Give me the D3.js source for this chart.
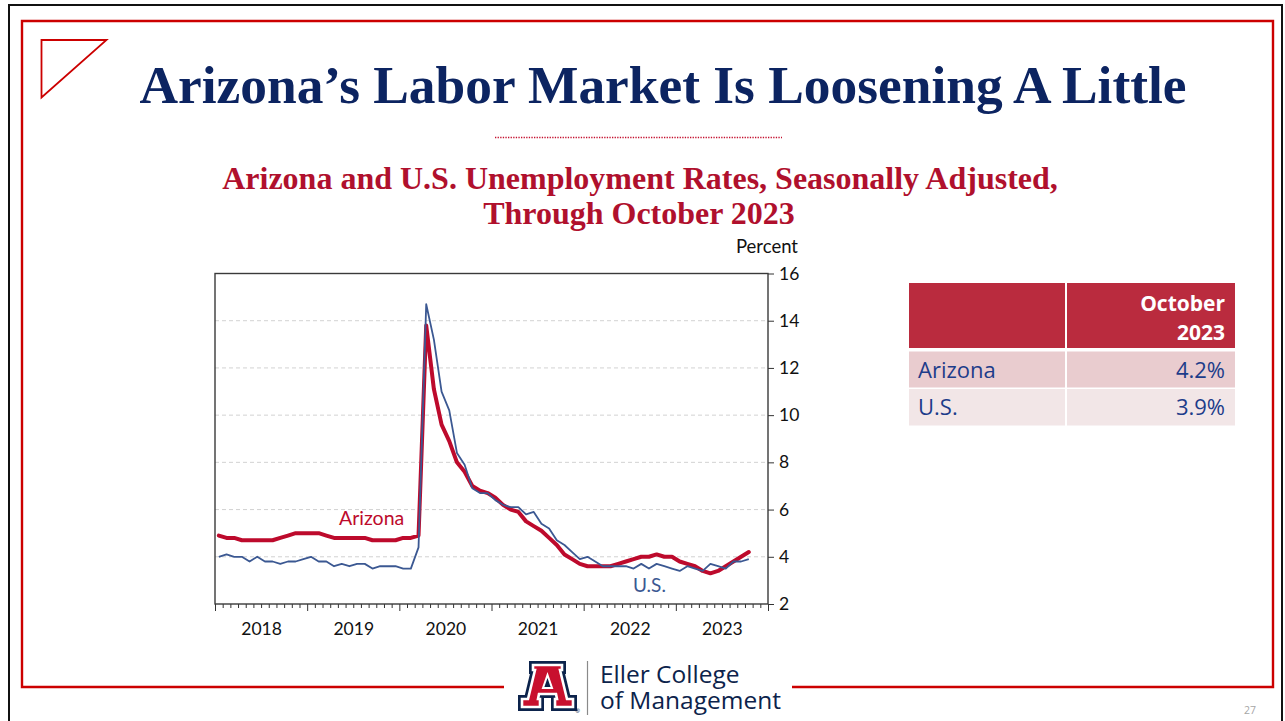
<!DOCTYPE html>
<html>
<head>
<meta charset="utf-8">
<script src="https://cdn.jsdelivr.net/npm/d3@7"></script>
<style>
  html, body { margin: 0; padding: 0; background: #ffffff; }
  svg { display: block; }
</style>
</head>
<body>
<svg id="slide" width="1285" height="721"></svg>
<script>
// Unemployment rates, seasonally adjusted, monthly from Jan 2018 through Oct 2023
const years = ["2018", "2019", "2020", "2021", "2022", "2023"];
const arizona = [
  4.9, 4.8, 4.8, 4.7, 4.7, 4.7, 4.7, 4.7, 4.8, 4.9, 5.0, 5.0,
  5.0, 5.0, 4.9, 4.8, 4.8, 4.8, 4.8, 4.8, 4.7, 4.7, 4.7, 4.7,
  4.8, 4.8, 4.9, 13.8, 11.1, 9.6, 8.9, 8.0, 7.6, 7.0, 6.8, 6.7,
  6.5, 6.2, 6.0, 5.9, 5.5, 5.3, 5.1, 4.8, 4.5, 4.1, 3.9, 3.7,
  3.6, 3.6, 3.6, 3.6, 3.7, 3.8, 3.9, 4.0, 4.0, 4.1, 4.0, 4.0,
  3.8, 3.7, 3.6, 3.4, 3.3, 3.4, 3.6, 3.8, 4.0, 4.2
];
const us = [
  4.0, 4.1, 4.0, 4.0, 3.8, 4.0, 3.8, 3.8, 3.7, 3.8, 3.8, 3.9,
  4.0, 3.8, 3.8, 3.6, 3.7, 3.6, 3.7, 3.7, 3.5, 3.6, 3.6, 3.6,
  3.5, 3.5, 4.4, 14.7, 13.2, 11.0, 10.2, 8.4, 7.9, 6.9, 6.7, 6.7,
  6.4, 6.2, 6.1, 6.1, 5.8, 5.9, 5.4, 5.2, 4.7, 4.5, 4.2, 3.9,
  4.0, 3.8, 3.6, 3.6, 3.6, 3.6, 3.5, 3.7, 3.5, 3.7, 3.6, 3.5,
  3.4, 3.6, 3.5, 3.4, 3.7, 3.6, 3.5, 3.8, 3.8, 3.9
];
const yTicks = [2, 4, 6, 8, 10, 12, 14, 16];
const tableHeader = ["October", "2023"];
const tableRows = ["Arizona", "U.S."];
const tableValues = [arizona[arizona.length - 1], us[us.length - 1]];

const NAVY = "#0c2461";
const CRIMSON = "#b0102d";
const FRAME_RED = "#cc0000";
const AZ_RED = "#bd0a2c";
const US_BLUE = "#3b5892";

const svg = d3.select("#slide");

// ---- slide frame ----
svg.append("rect").attr("x", 0).attr("y", 0).attr("width", 1285).attr("height", 721).attr("fill", "#fff");
svg.append("path")
  .attr("d", "M9,740 L9,5 L1282,5 L1282,740")
  .attr("fill", "none").attr("stroke", "#111").attr("stroke-width", 2);
svg.append("path")
  .attr("d", "M504,687 L22,687 L22,21 L1273,21 L1273,687 L792,687")
  .attr("fill", "none").attr("stroke", FRAME_RED).attr("stroke-width", 2.4);
svg.append("path")
  .attr("d", "M41.5,40 L106.5,40 L41.5,97.5 Z")
  .attr("fill", "none").attr("stroke", FRAME_RED).attr("stroke-width", 1.8);

// ---- titles ----
svg.append("text")
  .attr("x", 663).attr("y", 103)
  .attr("text-anchor", "middle")
  .attr("font-family", "'Liberation Serif', 'Times New Roman', serif")
  .attr("font-weight", "bold").attr("font-size", 53.4)
  .attr("fill", NAVY)
  .text("Arizona’s Labor Market Is Loosening A Little");

svg.append("line")
  .attr("x1", 495).attr("x2", 782).attr("y1", 137.5).attr("y2", 137.5)
  .attr("stroke", "#c4102f").attr("stroke-width", 1.6).attr("stroke-dasharray", "1.3,1.3");

const sub = svg.append("text")
  .attr("text-anchor", "middle")
  .attr("font-family", "'Liberation Serif', 'Times New Roman', serif")
  .attr("font-weight", "bold").attr("font-size", 32)
  .attr("fill", CRIMSON);
sub.append("tspan").attr("x", 640).attr("y", 189).text("Arizona and U.S. Unemployment Rates, Seasonally Adjusted,");
sub.append("tspan").attr("x", 639).attr("y", 224).text("Through October 2023");

// ---- chart ----
const plot = { left: 215, right: 768, top: 273.5, bottom: 604 };
const nMonths = years.length * 12;
const x = d3.scaleLinear().domain([0, nMonths]).range([plot.left, plot.right]);
const y = d3.scaleLinear().domain([2, 16]).range([plot.bottom, plot.top]);
const AXIS_FONT = "Lato, 'Open Sans', sans-serif";

const chart = svg.append("g");

// dashed gridlines
chart.append("g").selectAll("line")
  .data(yTicks.filter(d => d > 2 && d < 16))
  .join("line")
  .attr("x1", plot.left).attr("x2", plot.right)
  .attr("y1", d => y(d)).attr("y2", d => y(d))
  .attr("stroke", "#d2d2d2").attr("stroke-width", 1).attr("stroke-dasharray", "4,3");

// right value axis
const yAxis = chart.append("g")
  .attr("transform", `translate(${plot.right},0)`)
  .call(d3.axisRight(y).tickValues(yTicks).tickSize(6).tickPadding(5).tickFormat(d3.format("d")));
yAxis.select(".domain").remove();
yAxis.selectAll(".tick line").attr("stroke", "#333");
yAxis.selectAll(".tick text").attr("font-family", AXIS_FONT).attr("font-size", 17.5).attr("fill", "#111");

chart.append("text")
  .attr("x", 798).attr("y", 253)
  .attr("text-anchor", "end")
  .attr("font-family", AXIS_FONT).attr("font-size", 18.5).attr("fill", "#111")
  .text("Percent");

// monthly ticks along the bottom, longer at each January
const xAxis = chart.append("g")
  .attr("transform", `translate(0,${plot.bottom})`)
  .call(d3.axisBottom(x).tickValues(d3.range(0, nMonths + 1)).tickSize(4).tickFormat(""));
xAxis.select(".domain").remove();
xAxis.selectAll(".tick line")
  .attr("stroke", "#333")
  .attr("y2", d => (d % 12 === 0 ? 7 : 4));

// year labels centred in each year
const yearAxis = chart.append("g")
  .attr("transform", `translate(0,${plot.bottom})`)
  .call(d3.axisBottom(x).tickValues(years.map((_, i) => i * 12 + 6)).tickSize(0).tickPadding(19)
    .tickFormat((d, i) => years[i]));
yearAxis.select(".domain").remove();
yearAxis.selectAll(".tick text").attr("font-family", AXIS_FONT).attr("font-size", 17.5).attr("fill", "#111");

// plot frame
chart.append("rect")
  .attr("x", plot.left).attr("y", plot.top)
  .attr("width", plot.right - plot.left).attr("height", plot.bottom - plot.top)
  .attr("fill", "none").attr("stroke", "#3a3a3a").attr("stroke-width", 1.4);

const line = d3.line()
  .x((d, i) => x(i + 0.5))
  .y(d => y(d))
  .curve(d3.curveLinear);

chart.append("path")
  .datum(arizona)
  .attr("d", line)
  .attr("fill", "none").attr("stroke", AZ_RED).attr("stroke-width", 4)
  .attr("stroke-linejoin", "round").attr("stroke-linecap", "round");

chart.append("path")
  .datum(us)
  .attr("d", line)
  .attr("fill", "none").attr("stroke", US_BLUE).attr("stroke-width", 1.8)
  .attr("stroke-linejoin", "round");

chart.append("text")
  .attr("x", 339).attr("y", 525)
  .attr("font-family", AXIS_FONT).attr("font-size", 19.5).attr("fill", AZ_RED)
  .text("Arizona");
chart.append("text")
  .attr("x", 633).attr("y", 591.5)
  .attr("font-family", AXIS_FONT).attr("font-size", 19).attr("fill", US_BLUE)
  .text("U.S.");

// ---- summary table ----
const TABLE_FONT = "'Open Sans', sans-serif";
const tbl = svg.append("g");
const colX = [909, 1067], colW = [157, 168];
const rowY = [283, 351.5, 389], rowH = [65, 36, 36.5];
const rowFill = ["#ba2b3e", "#e9cccf", "#f2e6e7"];

[0, 1, 2].forEach(r => {
  [0, 1].forEach(c => {
    tbl.append("rect")
      .attr("x", colX[c]).attr("y", rowY[r])
      .attr("width", colW[c] - (c === 0 ? 1 : 0)).attr("height", rowH[r])
      .attr("fill", rowFill[r]);
  });
});

tbl.append("text")
  .attr("text-anchor", "end")
  .attr("font-family", TABLE_FONT).attr("font-weight", "bold").attr("font-size", 21)
  .attr("fill", "#fff")
  .selectAll("tspan").data(tableHeader).join("tspan")
  .attr("x", 1225).attr("y", (d, i) => 311 + i * 28.5)
  .text(d => d);

tableRows.forEach((name, i) => {
  const base = rowY[i + 1] + 26;
  tbl.append("text")
    .attr("x", 918).attr("y", base)
    .attr("font-family", TABLE_FONT).attr("font-size", 22).attr("fill", "#1d3c8a")
    .text(name);
  tbl.append("text")
    .attr("x", 1225).attr("y", base)
    .attr("text-anchor", "end")
    .attr("font-family", TABLE_FONT).attr("font-size", 22).attr("fill", "#1d3c8a")
    .text(d3.format(".1f")(tableValues[i]) + "%");
});

// ---- footer logo ----
const logo = svg.append("g").attr("transform", "translate(517,660)");
const blockA = "M16,5 L45,5 L45,10 L43,10 L50,39 L56,39 L56,47 L38,47 L38,39 L40,39 L39,34 L22,34 L21,39 L23,39 L23,47 L5,47 L5,39 L11,39 L18,10 L16,10 Z";
logo.append("path").attr("d", blockA)
  .attr("fill", "#0c234b").attr("stroke", "#0c234b").attr("stroke-width", 8).attr("stroke-linejoin", "miter");
logo.append("path").attr("d", blockA)
  .attr("fill", "#c8102e").attr("stroke", "#fff").attr("stroke-width", 2.6).attr("stroke-linejoin", "miter");
logo.append("path").attr("d", "M26,28 L35,28 L30.5,15 Z")
  .attr("fill", "#0c234b").attr("stroke", "#fff").attr("stroke-width", 2);
logo.append("text").attr("x", 58).attr("y", 53)
  .attr("font-family", "'Open Sans', sans-serif").attr("font-size", 6).attr("fill", "#0c234b").text("®");

svg.append("line")
  .attr("x1", 587.5).attr("x2", 587.5).attr("y1", 661).attr("y2", 715)
  .attr("stroke", "#8a8a8a").attr("stroke-width", 1.2);

const eller = svg.append("text")
  .attr("font-family", "'Open Sans', sans-serif").attr("font-size", 24.5).attr("fill", "#0c234b");
eller.append("tspan").attr("x", 600).attr("y", 683).text("Eller College");
eller.append("tspan").attr("x", 600).attr("y", 709).text("of Management");

svg.append("text")
  .attr("x", 1250).attr("y", 714)
  .attr("text-anchor", "middle")
  .attr("font-family", "'Open Sans', sans-serif").attr("font-size", 10.5).attr("fill", "#a6a6a6")
  .text("27");
</script>
</body>
</html>
